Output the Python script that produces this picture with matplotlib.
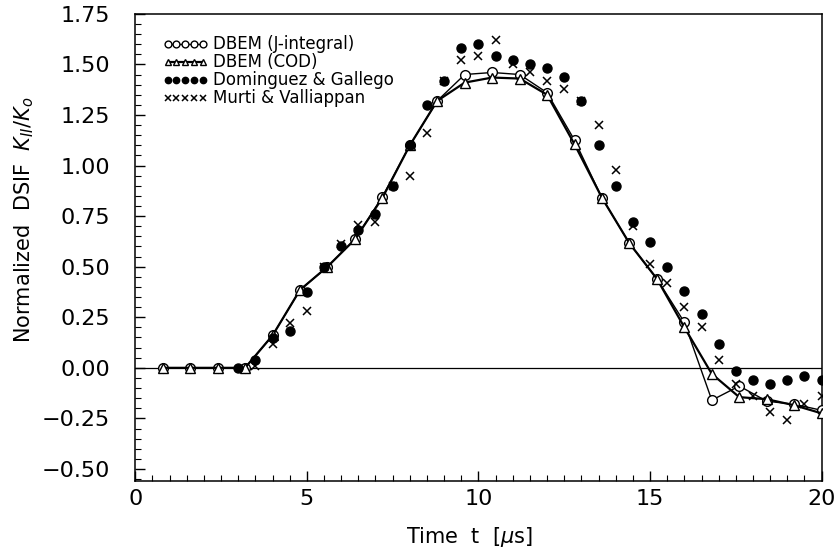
import matplotlib.pyplot as plt
from matplotlib.ticker import MultipleLocator, FuncFormatter
import numpy as np

# DBEM results, time step 0.8 us
t_dbem = [0.8, 1.6, 2.4, 3.2, 4.0, 4.8, 5.6, 6.4, 7.2, 8.0, 8.8, 9.6, 10.4,
          11.2, 12.0, 12.8, 13.6, 14.4, 15.2, 16.0, 16.8, 17.6, 18.4, 19.2, 20.0]
k_jint = [0.0, 0.0, 0.0, 0.0, 0.16, 0.385, 0.50, 0.635, 0.845, 1.10, 1.32, 1.45,
          1.46, 1.45, 1.36, 1.125, 0.84, 0.615, 0.44, 0.225, -0.16, -0.09,
          -0.165, -0.18, -0.21]
k_cod = [0.0, 0.0, 0.0, 0.0, 0.16, 0.385, 0.50, 0.635, 0.84, 1.10, 1.32, 1.41,
         1.435, 1.43, 1.35, 1.105, 0.84, 0.615, 0.44, 0.20, -0.03, -0.145,
         -0.155, -0.185, -0.225]

# reference solutions, time step 0.5 us
t_dom = [3.0, 3.5, 4.0, 4.5, 5.0, 5.5, 6.0, 6.5, 7.0, 7.5, 8.0, 8.5, 9.0, 9.5,
         10.0, 10.5, 11.0, 11.5, 12.0, 12.5, 13.0, 13.5, 14.0, 14.5, 15.0,
         15.5, 16.0, 16.5, 17.0, 17.5, 18.0, 18.5, 19.0, 19.5, 20.0]
k_dom = [0.0, 0.04, 0.145, 0.18, 0.375, 0.50, 0.60, 0.68, 0.76, 0.90, 1.10,
         1.30, 1.42, 1.58, 1.60, 1.54, 1.52, 1.50, 1.48, 1.44, 1.32, 1.10,
         0.90, 0.72, 0.62, 0.50, 0.38, 0.265, 0.12, -0.015, -0.06, -0.08,
         -0.06, -0.04, -0.06]

t_murti = [3.5, 4.0, 4.5, 5.0, 5.5, 6.0, 6.5, 7.0, 7.5, 8.0, 8.5, 9.0, 9.5,
           10.0, 10.5, 11.0, 11.5, 12.0, 12.5, 13.0, 13.5, 14.0, 14.5, 15.0,
           15.5, 16.0, 16.5, 17.0, 17.5, 18.0, 18.5, 19.0, 19.5, 20.0]
k_murti = [0.01, 0.12, 0.22, 0.28, 0.50, 0.61, 0.705, 0.72, 0.90, 0.95, 1.16,
           1.42, 1.52, 1.54, 1.62, 1.50, 1.46, 1.42, 1.38, 1.32, 1.20, 0.98,
           0.70, 0.515, 0.42, 0.30, 0.20, 0.04, -0.08, -0.14, -0.22, -0.26,
           -0.18, -0.14]

plt.rcParams["font.family"] = "DejaVu Sans"

fig = plt.figure(figsize=(8.35, 5.53), dpi=100)
ax = fig.add_axes([0.162, 0.130, 0.822, 0.845])

ax.axhline(0, color="black", lw=0.9, zorder=1)

ax.plot(t_dbem, k_jint, color="black", lw=1.0, marker="o", ms=7,
        mfc="white", mec="black", mew=1.0, label="DBEM (J-integral)", zorder=3)
ax.plot(t_dbem, k_cod, color="black", lw=1.6, marker="^", ms=6.5,
        mfc="white", mec="black", mew=1.0, label="DBEM (COD)", zorder=3)
ax.plot(t_dom, k_dom, ls="none", marker="o", ms=6.5, color="black",
        label="Dominguez & Gallego", zorder=4)
ax.plot(t_murti, k_murti, ls="none", marker="x", ms=5.5, mew=1.1,
        color="black", label="Murti & Valliappan", zorder=4)

ax.set_xlim(0, 20)
ax.set_ylim(-0.56, 1.75)
ax.xaxis.set_major_locator(MultipleLocator(5))
ax.xaxis.set_minor_locator(MultipleLocator(0.5))
ax.yaxis.set_major_locator(MultipleLocator(0.25))
ax.yaxis.set_minor_locator(MultipleLocator(0.05))
ax.yaxis.set_major_formatter(FuncFormatter(lambda v, p: f"{v:.2f}".replace("-", "\u2212")))
ax.tick_params(which="both", direction="in", labelsize=16)
ax.tick_params(which="major", length=7, width=1)
ax.tick_params(which="minor", length=4, width=0.8)
ax.tick_params(axis="x", pad=6)
ax.tick_params(axis="y", pad=18)
for s in ax.spines.values():
    s.set_linewidth(1.1)

ax.set_xlabel(r"Time  t  $[\mu\mathrm{s}]$", fontsize=15)
ax.set_ylabel(r"Normalized  DSIF  $K_{II}/K_o$", fontsize=15)
ax.xaxis.set_label_coords(0.487, -0.094)
ax.yaxis.set_label_coords(-0.144, 0.56)

ax.legend(loc="upper left", bbox_to_anchor=(0.03, 0.968), borderaxespad=0,
          frameon=False, numpoints=5, markerscale=0.7, handlelength=2.7,
          handletextpad=0.35, labelspacing=0.0, fontsize=12)

plt.savefig("out.png", dpi=100)
